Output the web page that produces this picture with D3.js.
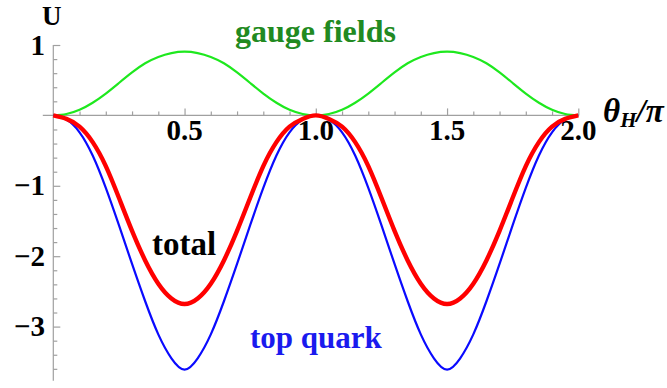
<!DOCTYPE html>
<html>
<head>
<meta charset="utf-8">
<script src="https://cdn.jsdelivr.net/npm/d3@7/dist/d3.min.js"></script>
<style>
html,body{margin:0;padding:0;background:#fff;}
svg{display:block;}
text{font-family:"Liberation Serif","Times New Roman",serif;font-weight:bold;}
</style>
</head>
<body>
<svg id="chart" width="667" height="388"></svg>
<script>
// theta_H / pi sample points
const theta = [0,0.05,0.10,0.15,0.20,0.25,0.30,0.35,0.40,0.45,0.50,0.55,0.60,0.65,0.70,0.75,0.80,0.85,0.90,0.95,1.00,
               1.05,1.10,1.15,1.20,1.25,1.30,1.35,1.40,1.45,1.50,1.55,1.60,1.65,1.70,1.75,1.80,1.85,1.90,1.95,2.00];
// gauge fields contribution
const gauge = [0,0.02,0.08,0.18,0.31,0.46,0.61,0.74,0.83,0.885,0.905,0.885,0.83,0.74,0.61,0.46,0.31,0.18,0.08,0.02,0,
               0.02,0.08,0.18,0.31,0.46,0.61,0.74,0.83,0.885,0.905,0.885,0.83,0.74,0.61,0.46,0.31,0.18,0.08,0.02,0];
// top quark contribution
const topQuark = [0,-0.06,-0.24,-0.57,-1.03,-1.56,-2.11,-2.64,-3.11,-3.45,-3.61,-3.45,-3.11,-2.64,-2.11,-1.56,-1.03,-0.57,-0.24,-0.06,0,
                  -0.06,-0.24,-0.57,-1.03,-1.56,-2.11,-2.64,-3.11,-3.45,-3.61,-3.45,-3.11,-2.64,-2.11,-1.56,-1.03,-0.57,-0.24,-0.06,0];
// total
const total = [0,-0.05,-0.16,-0.38,-0.72,-1.17,-1.64,-2.06,-2.39,-2.60,-2.68,-2.60,-2.39,-2.06,-1.64,-1.17,-0.72,-0.38,-0.16,-0.05,0,
               -0.05,-0.16,-0.38,-0.72,-1.17,-1.64,-2.06,-2.39,-2.60,-2.68,-2.60,-2.39,-2.06,-1.64,-1.17,-0.72,-0.38,-0.16,-0.05,0];

const xMajor = [0.5,1.0,1.5,2.0];
const xMajorLabels = ["0.5","1.0","1.5","2.0"];
const xMinor = [0.1,0.2,0.3,0.4,0.6,0.7,0.8,0.9,1.1,1.2,1.3,1.4,1.6,1.7,1.8,1.9];
const yMajor = [1,-1,-2,-3];
const yMajorLabels = ["1","\u22121","\u22122","\u22123"];
const yMinor = [0.8,0.6,0.4,0.2,-0.2,-0.4,-0.6,-0.8,-1.2,-1.4,-1.6,-1.8,-2.2,-2.4,-2.6,-2.8,-3.2,-3.4,-3.6];

const svg = d3.select("#chart");
const x = d3.scaleLinear().domain([0,2]).range([53.3,578.3]);
const y = d3.scaleLinear().domain([1,-3.77]).range([45,380.8]);

const axisColor = "#a0a0a0";
// y axis line
svg.append("line").attr("x1",x(0)).attr("x2",x(0)).attr("y1",y(1)).attr("y2",y(-3.77))
  .attr("stroke",axisColor).attr("stroke-width",1.2);
// x axis line
svg.append("line").attr("x1",x(-0.04)).attr("x2",x(2)).attr("y1",y(0)).attr("y2",y(0))
  .attr("stroke",axisColor).attr("stroke-width",1.2);

// x ticks (pointing up)
const gx = svg.append("g").attr("transform",`translate(0,${y(0)})`);
gx.append("g").call(d3.axisTop(x).tickValues(xMinor).tickSize(4).tickSizeOuter(0).tickFormat(""));
gx.append("g").call(d3.axisTop(x).tickValues(xMajor).tickSize(7).tickSizeOuter(0).tickFormat(""));
gx.selectAll(".domain").remove();
gx.selectAll(".tick line").attr("stroke",axisColor).attr("stroke-width",1.2);

// y ticks (pointing right)
const gy = svg.append("g").attr("transform",`translate(${x(0)},0)`);
gy.append("g").call(d3.axisRight(y).tickValues(yMinor).tickSize(4).tickSizeOuter(0).tickFormat(""));
gy.append("g").call(d3.axisRight(y).tickValues(yMajor).tickSize(7).tickSizeOuter(0).tickFormat(""));
gy.selectAll(".domain").remove();
gy.selectAll(".tick line").attr("stroke",axisColor).attr("stroke-width",1.2);

// tick labels
svg.append("g").selectAll("text").data(xMajor).join("text")
  .attr("x",d=>x(d)).attr("y",y(0)+25).attr("text-anchor","middle")
  .attr("font-size",29).attr("fill","#000").text((d,i)=>xMajorLabels[i]);
svg.append("g").selectAll("text").data(yMajor).join("text")
  .attr("x",45).attr("y",d=>y(d)+9.5).attr("text-anchor","end")
  .attr("font-size",29).attr("fill","#000").text((d,i)=>yMajorLabels[i]);

// axis labels
svg.append("text").attr("x",42).attr("y",25).attr("font-size",27).attr("fill","#000").text("U");
const xl = svg.append("text").attr("x",603).attr("y",122).attr("font-size",33)
  .attr("font-style","italic").attr("fill","#000");
xl.append("tspan").text("\u03b8");
xl.append("tspan").attr("font-size",21).attr("dy",5).text("H");
xl.append("tspan").attr("dy",-5).text("/\u03c0");

// curves
const line = d3.line().x((d,i)=>x(theta[i])).y(d=>y(d)).curve(d3.curveNatural);
svg.append("path").datum(gauge).attr("d",line).attr("fill","none").attr("stroke","#1ee81e").attr("stroke-width",2.2);
svg.append("path").datum(topQuark).attr("d",line).attr("fill","none").attr("stroke","#0a0aff").attr("stroke-width",2.2);
svg.append("path").datum(total).attr("d",line).attr("fill","none").attr("stroke","#ff0000").attr("stroke-width",4.4);

// series labels
svg.append("text").attr("x",235).attr("y",42).attr("font-size",32).attr("fill","#218a21").text("gauge fields");
svg.append("text").attr("x",152).attr("y",255).attr("font-size",33).attr("fill","#000").text("total");
svg.append("text").attr("x",250).attr("y",348).attr("font-size",31).attr("fill","#1a1aee").text("top quark");
</script>
</body>
</html>
